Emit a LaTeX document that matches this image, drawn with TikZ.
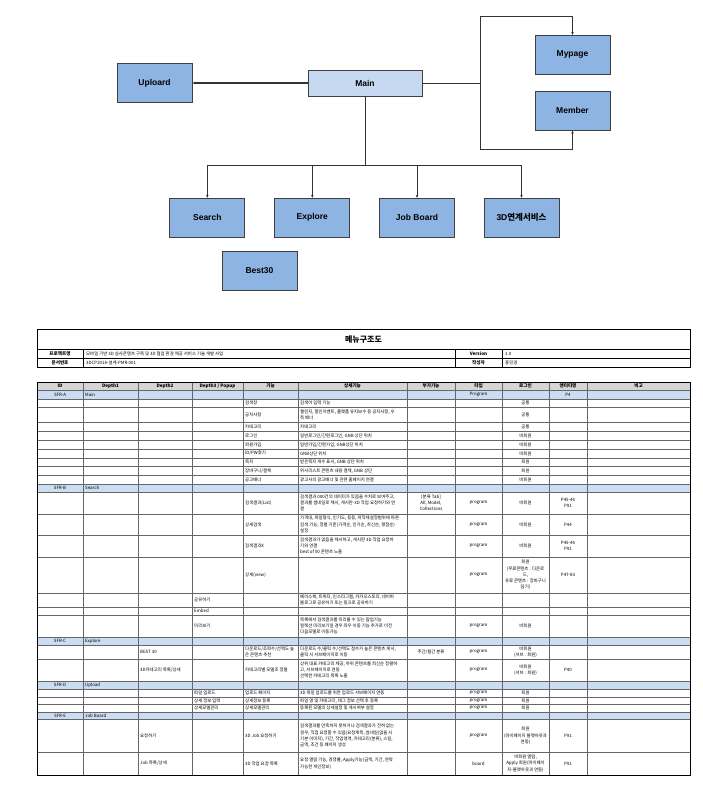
\documentclass[tikz,border=0pt]{standalone}
\usepackage{fontspec}
\setmainfont{Liberation Sans}
\newfontfamily\kr{Noto Sans CJK KR}
\usetikzlibrary{arrows.meta}
\definecolor{boxblue}{HTML}{8DB4E2}
\definecolor{mainblue}{HTML}{C6D9F1}
\definecolor{secblue}{HTML}{CADDF3}
\definecolor{hdrgray}{HTML}{D6D6D6}
\newcommand\tf{\kr\fontsize{4.4}{6.2}\selectfont}
\newcommand\tfb{\kr\bfseries\fontsize{4.6}{6.2}\selectfont}
\newcommand\cellL[4]{\node[tl] (#1) at (#2,#3) {#4};}
\newcommand\cellC[4]{\node[tcx] (#1) at (#2,#3) {#4};}
\newcommand\cellH[4]{\node[thd] (#1) at (#2,#3) {#4};}
\begin{document}
\begin{tikzpicture}[x=1pt,y=-1pt,
  mod/.style={draw=black!75, fill=boxblue, line width=0.8pt, minimum width=75pt, minimum height=39pt, inner sep=0pt, font=\bfseries\fontsize{8.5}{10}\selectfont},
  mainbox/.style={mod, fill=mainblue, minimum width=114pt, minimum height=26pt},
  conn/.style={draw=black!80, line width=0.7pt},
  arr/.style={conn, -{Stealth[length=3pt,width=2.6pt]}},
  tl/.style={anchor=west, inner sep=0pt, align=left, font=\tf},
  tcx/.style={inner sep=0pt, align=center, font=\tf},
  thd/.style={inner sep=0pt, align=center, font=\tfb},
  grid/.style={draw=black!60, line width=0.6pt}]
\useasboundingbox (0,0) rectangle (703,790);
% ---------- top diagram ----------
\node[mainbox] (main) at (365,83) {Main};
\node[mod] (upl) at (154.5,83) {Uploard};
\node[mod] (myp) at (572.5,54.8) {Mypage};
\node[mod] (mem) at (572.5,110.7) {Member};
\node[mod] (srch) at (207.3,217.7) {Search};
\node[mod] (expl) at (312.3,217.7) {Explore};
\node[mod] (job) at (417,217.7) {Job Board};
\node[mod] (svc) at (521.5,217.7) {3D{\kr\bfseries 연계서비스}};
\node[mod] (best) at (259.5,270.8) {Best30};
\draw[arr, line width=1.4pt] (main.west) -- (upl.east);
\coordinate (br) at (480,83);
\coordinate (brt) at (480,16.3);
\coordinate (brb) at (480,149);
\draw[conn] (main.east) -- (br);
\draw[arr] (br) -- (brt) -| (myp.north);
\draw[arr] (br) -- (brb) -| (mem.south);
\coordinate (bus) at (365,165.3);
\draw[conn] (main.south) -- (bus);
\draw[arr] (bus) -| (srch.north);
\draw[arr] (bus) -| (expl.north);
\draw[arr] (bus) -| (job.north);
\draw[arr] (bus) -| (svc.north);
% ---------- title box ----------
\draw[line width=0.5pt] (37,349) -- (690,349) (37,358) -- (690,358)
  (83,349) -- (83,367) (455,349) -- (455,367) (502,349) -- (502,367);
\draw[line width=1pt] (37,329) rectangle (690,367);
\node[font=\kr\bfseries\fontsize{8}{9}\selectfont, inner sep=0pt] (ttl) at (363.5,339) {메뉴구조도};
\cellH{pl}{60}{353.5}{프로젝트명}
\cellL{pv}{86}{353.5}{모바일 기반 3D 실사콘텐츠 구축 및 3D 협업 환경 제공 서비스 기술 개발 사업}
\cellH{vl}{478.5}{353.5}{Version}
\cellL{vv}{505}{353.5}{1.0}
\cellH{dl}{60}{362.5}{문서번호}
\cellL{dv}{86}{362.5}{3DCP2018-설계-PMR-001}
\cellH{wl}{478.5}{362.5}{작성자}
\cellL{wv}{505}{362.5}{홍민경}
% ---------- main table fills ----------
\fill[hdrgray] (37,382) rectangle (690,390);
\foreach \a/\b in {390/398.8, 484.2/492, 637/645, 681/689, 712/719.5}
  \fill[secblue] (37,\a) rectangle (690,\b);
\foreach \y in {390,398.8,407.6,422.6,431.4,440.2,449,457.8,466.6,475.4,484.2,492,514,535,557,593,607,615,637,645,659,681,689,697,704.5,712,719.5,752}
  \draw[grid] (37,\y) -- (690,\y);
\foreach \x in {83,138,192,243,298,407,455,502,549,587}
  \draw[grid] (\x,382) -- (\x,775);
\draw[line width=1pt] (37,382) rectangle (690,775);
% ---------- header ----------
\cellH{h1}{60}{386}{ID}
\cellH{h2}{110.5}{386}{Depth1}
\cellH{h3}{165}{386}{Depth2}
\cellH{h4}{217.5}{386}{Depth3 / Popup}
\cellH{h5}{270.5}{386}{기능}
\cellH{h6}{352.5}{386}{상세기능}
\cellH{h7}{431}{386}{부가기능}
\cellH{h8}{478.5}{386}{타입}
\cellH{h9}{525.5}{386}{로그인}
\cellH{h10}{568}{386}{엔터티명}
\cellH{h11}{638.5}{386}{비고}
% ---------- SFR-A ----------
\cellC{a0}{60}{394.4}{SFR-A}
\cellL{a1}{85}{394.4}{Main}
\cellC{a2}{478.5}{394.4}{Program}
\cellC{a3}{568}{394.4}{P4}
\cellL{r1a}{245}{403.2}{검색창}
\cellL{r1b}{300}{403.2}{검색어 입력 기능}
\cellC{r1c}{525.5}{403.2}{공통}
\cellL{r2a}{245}{415.1}{공지사항}
\cellL{r2b}{300}{415.1}{챌린지, 할인이벤트, 플랫폼 유지보수 등 공지사항, 우\\측 배너}
\cellC{r2c}{525.5}{415.1}{공통}
\cellL{r3a}{245}{427}{카테고리}
\cellL{r3b}{300}{427}{카테고리}
\cellC{r3c}{525.5}{427}{공통}
\cellL{r4a}{245}{435.8}{로그인}
\cellL{r4b}{300}{435.8}{일반로그인/간편로그인, GNB 상단 위치}
\cellC{r4c}{525.5}{435.8}{비회원}
\cellL{r5a}{245}{444.6}{회원가입}
\cellL{r5b}{300}{444.6}{일반가입/간편가입, GNB상단 위치}
\cellC{r5c}{525.5}{444.6}{비회원}
\cellL{r6a}{245}{453.4}{ID/PW찾기}
\cellL{r6b}{300}{453.4}{GNB상단 위치}
\cellC{r6c}{525.5}{453.4}{비회원}
\cellL{r7a}{245}{462.2}{쪽지}
\cellL{r7b}{300}{462.2}{받은쪽지 개수 표시, GNB 상단 위치}
\cellC{r7c}{525.5}{462.2}{회원}
\cellL{r8a}{245}{471}{장바구니/결제}
\cellL{r8b}{300}{471}{위시리스트 콘텐츠 내용 결제, GNB 상단}
\cellC{r8c}{525.5}{471}{회원}
\cellL{r9a}{245}{479.8}{공고배너}
\cellL{r9b}{300}{479.8}{광고사의 광고배너 및 관련 홈페이지 연결}
\cellC{r9c}{525.5}{479.8}{비회원}
% ---------- SFR-B ----------
\cellC{b0}{60}{488}{SFR-B}
\cellL{b00}{85}{488}{Search}
\cellL{b1a}{245}{503}{검색결과(List)}
\cellL{b1b}{300}{503}{검색결과 000건의 데이터가 있음을 수치로 보여주고,\\결과를 썸네일로 제시, 게시판-3D 작업 요청하기와 연\\결}
\cellC{b1c}{431}{503}{[분류 Tab]\\All, Model,\\Collections}
\cellC{b1d}{478.5}{503}{program}
\cellC{b1e}{525.5}{503}{비회원}
\cellC{b1f}{568}{503}{P45-46\\P91}
\cellL{b2a}{245}{524.5}{상세검색}
\cellL{b2b}{300}{524.5}{가격대, 파일형식, 인기도, 등등, 저작재설정범위에 따른\\검색 기능, 정렬 기준(가격순, 인기순, 최신순, 평점순)\\설정}
\cellC{b2d}{478.5}{524.5}{program}
\cellC{b2e}{525.5}{524.5}{비회원}
\cellC{b2f}{568}{524.5}{P44}
\cellL{b3a}{245}{546}{검색결과X}
\cellL{b3b}{300}{546}{검색결과가 없음을 제시하고, 게시판 3D 작업 요청하\\기와 연결\\best of 50 콘텐츠 노출}
\cellC{b3d}{478.5}{546}{program}
\cellC{b3e}{525.5}{546}{비회원}
\cellC{b3f}{568}{546}{P45-46\\P91}
\cellL{b4a}{245}{575}{상세(view)}
\cellC{b4d}{478.5}{575}{program}
\cellC{b4e}{525.5}{575}{회원\\(무료콘텐츠 : 다운로\\드,\\유료 콘텐츠 : 장바구니\\담기)}
\cellC{b4f}{568}{575}{P47-83}
\cellL{b5a}{194}{600}{공유하기}
\cellL{b5b}{300}{600}{페이스북, 트위터, 인스타그램, 카카오스토리, 네이버\\블로그로 공유하기 또는 링크로 공유하기}
\cellL{b6a}{194}{611}{Embed}
\cellL{b7a}{194}{626}{미리보기}
\cellL{b7b}{300}{626}{목록에서 검색결과를 미리볼 수 있는 팝업기능\\컬렉션 미리보기일 경우 좌우 이동 기능 추가로 이전\\다음모델로 이동가능}
\cellC{b7d}{478.5}{626}{program}
\cellC{b7e}{525.5}{626}{비회원}
% ---------- SFR-C ----------
\cellC{c0}{60}{641}{SFR-C}
\cellL{c00}{85}{641}{Explore}
\cellL{c1a}{140}{652}{BEST 30}
\cellL{c1b}{245}{652}{다운로드/조회수/선택도 높\\은 콘텐츠 추천}
\cellL{c1c}{300}{652}{다운로드 수/클릭 수/선택도 점수가 높은 콘텐츠 게시,\\클릭 시 서브페이지로 이동}
\cellC{c1d}{431}{652}{주간/월간 분류}
\cellC{c1e}{478.5}{652}{program}
\cellC{c1f}{525.5}{652}{비회원\\(서브 : 회원)}
\cellL{c2a}{140}{670}{3D카테고리 목록/상세}
\cellL{c2b}{245}{670}{카테고리별 모델조 정렬}
\cellL{c2c}{300}{670}{상위 대표 카테고리 제공, 하위 콘텐츠를 최신순 정렬하\\고, 서브페이지로 연동\\선택한 카테고리 목록 노출}
\cellC{c2e}{478.5}{670}{program}
\cellC{c2f}{525.5}{670}{비회원\\(서브 : 회원)}
\cellC{c2g}{568}{670}{P40}
% ---------- SFR-D ----------
\cellC{d0}{60}{685}{SFR-D}
\cellL{d00}{85}{685}{Upload}
\cellL{d1a}{194}{693}{파일 업로드}
\cellL{d1b}{245}{693}{업로드 페이지}
\cellL{d1c}{300}{693}{3D 파일 업로드를 위한 업로드 서브페이지 연동}
\cellC{d1e}{478.5}{693}{program}
\cellC{d1f}{525.5}{693}{회원}
\cellL{d2a}{194}{700.75}{상세 정보 입력}
\cellL{d2b}{245}{700.75}{상세정보 등록}
\cellL{d2c}{300}{700.75}{파일 명 및 카테고리, 태그 정보 선택 후 등록}
\cellC{d2e}{478.5}{700.75}{program}
\cellC{d2f}{525.5}{700.75}{회원}
\cellL{d3a}{194}{708.25}{상세모델관리}
\cellL{d3b}{245}{708.25}{상세모델관리}
\cellL{d3c}{300}{708.25}{등록된 모델의 상세설정 및 게시여부 설정}
\cellC{d3e}{478.5}{708.25}{program}
\cellC{d3f}{525.5}{708.25}{회원}
% ---------- SFR-E ----------
\cellC{e0}{60}{715.75}{SFR-E}
\cellL{e00}{85}{715.75}{Job Board}
\cellL{e1a}{140}{735.75}{요청하기}
\cellL{e1b}{245}{735.75}{3D Job 요청하기}
\cellL{e1c}{300}{735.75}{검색결과를 만족하지 못하거나 검색결과가 전혀 없는\\경우, 직접 요청할 수 있음(요청제목, 썸네일(없을 시\\기본 이미지), 기간, 작업영역, 카테고리(분류), 스킬,\\금액, 조건 등 페이지 생성}
\cellC{e1e}{478.5}{735.75}{program}
\cellC{e1f}{525.5}{735.75}{회원\\(마이페이지 블랫아웃과\\연동)}
\cellC{e1g}{568}{735.75}{P91}
\cellL{e2a}{140}{763.5}{Job 목록/상세}
\cellL{e2b}{245}{763.5}{3D 작업 요청 목록}
\cellL{e2c}{300}{763.5}{요청 열람 기능, 경쟁률, Apply기능(금액, 기간, 연락\\가능한 개인정보)}
\cellC{e2e}{478.5}{763.5}{board}
\cellC{e2f}{525.5}{763.5}{비회원 열람,\\Apply 회원(마이페이\\지-블랫아웃과 연동)}
\cellC{e2g}{568}{763.5}{P91}
\end{tikzpicture}
\end{document}
